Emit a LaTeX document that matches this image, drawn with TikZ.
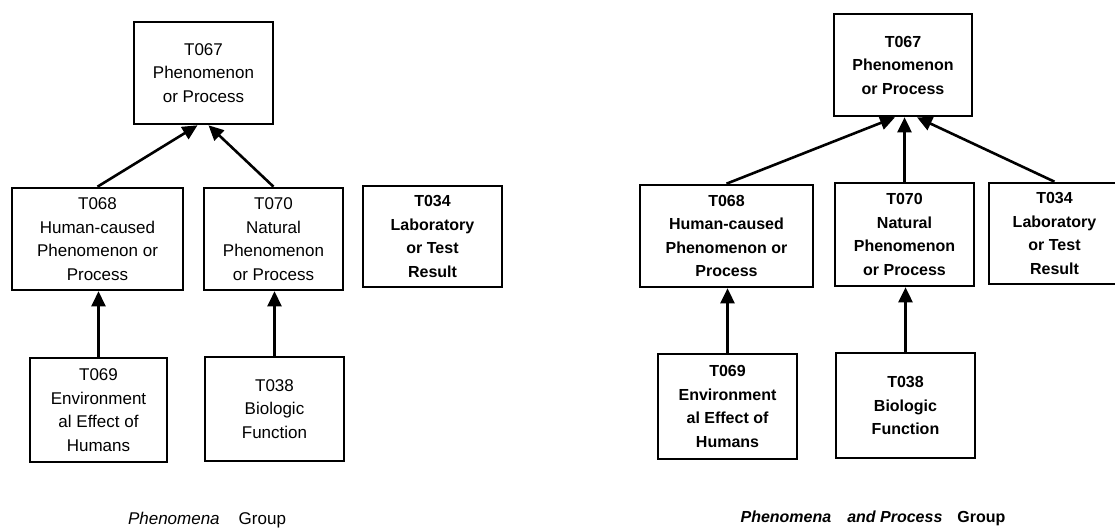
\documentclass[tikz,border=0pt]{standalone}
\usepackage{fontspec}
\setmainfont{Liberation Sans}
\usetikzlibrary{arrows.meta}
\begin{document}
\begin{tikzpicture}[x=1pt,y=-1pt,
  box/.style={draw, line width=2.6pt, inner sep=0pt, align=center,
    minimum width=139pt, minimum height=102pt,
    font=\fontsize{17}{23.5}\selectfont},
  boldbox/.style={box, font=\fontsize{16}{23.5}\selectfont\bfseries},
  link/.style={line width=2.6pt, -{Triangle[length=15pt,width=14pt]}},
  caption/.style={inner sep=0pt, font=\fontsize{17}{20}\selectfont}]
\useasboundingbox (0,0) rectangle (1115,528);

% ---- Phenomena group ----
\node[box] (a067) at (203.5,73) {T067\\Phenomenon\\or Process};
\node[box, minimum width=171pt] (a068) at (97.5,239) {T068\\Human-caused\\Phenomenon or\\Process};
\node[box] (a070) at (273.5,239) {T070\\Natural\\Phenomenon\\or Process};
\node[boldbox, minimum height=101pt] (a034) at (432.5,236.5) {T034\\Laboratory\\or Test\\Result};
\node[box, minimum width=137pt, minimum height=104pt] (a069) at (98.5,410) {T069\\Environment\\al Effect of\\Humans};
\node[box, minimum height=104pt] (a038) at (274.5,409) {T038\\Biologic\\Function};

\draw[link] (a068.north) -- ([xshift=-6pt]a067.south);
\draw[link] (a070.north) -- ([xshift=5pt]a067.south);
\draw[link] (a069.north) -- (a069.north |- a068.south);
\draw[link] (a038.north) -- (a038.north |- a070.south);

\node[caption] (acap) at (207,520) {\textit{Phenomena}\hspace{19pt}Group};

% ---- Phenomena and Process group ----
\node[boldbox, minimum width=138pt] (b067) at (903,65) {T067\\Phenomenon\\or Process};
\node[boldbox, minimum width=173pt] (b068) at (726.5,236) {T068\\Human-caused\\Phenomenon or\\Process};
\node[boldbox, minimum height=103pt] (b070) at (904.5,234.5) {T070\\Natural\\Phenomenon\\or Process};
\node[boldbox, minimum width=131pt, minimum height=101pt] (b034) at (1054.5,233.5) {T034\\Laboratory\\or Test\\Result};
\node[boldbox, minimum height=105pt] (b069) at (727.5,406.5) {T069\\Environment\\al Effect of\\Humans};
\node[boldbox, minimum height=105pt] (b038) at (905.5,405.5) {T038\\Biologic\\Function};

\draw[link] (b068.north) -- ([xshift=-8pt]b067.south);
\draw[link] (b070.north) -- (b070.north |- b067.south);
\draw[link] (b034.north) -- ([xshift=14pt]b067.south);
\draw[link] (b069.north) -- (b069.north |- b068.south);
\draw[link] (b038.north) -- (b038.north |- b070.south);

\node[caption, font=\fontsize{16}{20}\selectfont\bfseries] (bcap) at (873,518)
  {\textit{Phenomena}\hspace{16pt}\textit{and Process}\hspace{15pt}Group};
\end{tikzpicture}
\end{document}
